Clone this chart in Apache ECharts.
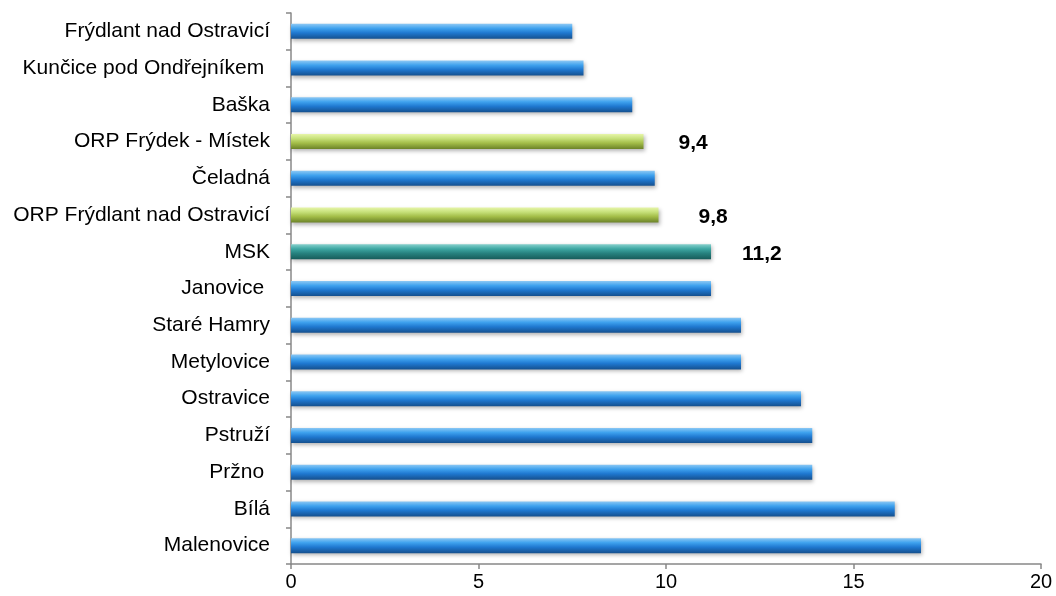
<!DOCTYPE html>
<html><head><meta charset="utf-8">
<script src="https://cdn.jsdelivr.net/npm/echarts@6/dist/echarts.min.js"></script>
<style>html,body{margin:0;padding:0;background:#fff}#c{width:1056px;height:596px}</style>
</head><body><div id="c"></div>
<script>
var categories = ['Frýdlant nad Ostravicí','Kunčice pod Ondřejníkem ','Baška','ORP Frýdek - Místek','Čeladná','ORP Frýdlant nad Ostravicí','MSK','Janovice ','Staré Hamry','Metylovice','Ostravice','Pstruží','Pržno ','Bílá','Malenovice'];
var values = [7.5,7.8,9.1,9.4,9.7,9.8,11.2,11.2,12.0,12.0,13.6,13.9,13.9,16.1,16.8];
var orpCategories = ['ORP Frýdek - Místek','ORP Frýdlant nad Ostravicí'];
var regionCategories = ['MSK'];
var xTicks = [0,5,10,15,20];

var FONT = 'Liberation Sans, Arial, sans-serif';
function grad(a,b,c,d){
  return new echarts.graphic.LinearGradient(0,0,0,1,[
    {offset:0,color:a},{offset:0.3,color:b},{offset:0.6,color:c},{offset:1,color:d}]);
}
var blue = grad('#8cc8f4','#3fa2ee','#1f78d0','#15508e');
var green = grad('#e6f5a8','#c6e07a','#a3bd48','#6b8228');
var teal = grad('#86d0cc','#3fa8a4','#27827f','#175c5a');
var labelGap = {'ORP Frýdek - Místek':35,'ORP Frýdlant nad Ostravicí':40,'MSK':31};

var seriesData = values.map(function(v,i){
  var name = categories[i];
  var isOrp = orpCategories.indexOf(name) >= 0;
  var isReg = regionCategories.indexOf(name) >= 0;
  return {
    value: v,
    itemStyle: {color: isOrp ? green : (isReg ? teal : blue)},
    label: {show: isOrp || isReg, distance: labelGap[name] || 35}
  };
});

var chart = echarts.init(document.getElementById('c'));
chart.setOption({
  animation:false,
  grid:{left:291,right:15,top:13,bottom:32,containLabel:false},
  xAxis:{type:'value',min:0,max:20,interval:5,
    axisLine:{show:true,lineStyle:{color:'#888',width:1.5}},
    axisTick:{show:true,length:5,lineStyle:{color:'#888',width:1.5}},
    splitLine:{show:false},
    axisLabel:{color:'#000',fontSize:20,fontFamily:FONT,margin:8,
      formatter:function(v){return xTicks.indexOf(v)>=0?String(v):'';}}
  },
  yAxis:{type:'category',data:categories,inverse:true,
    axisLine:{show:true,lineStyle:{color:'#888',width:1.5}},
    axisTick:{show:true,length:5,alignWithLabel:false,lineStyle:{color:'#888',width:1.5}},
    axisLabel:{color:'#000',fontSize:21,fontFamily:FONT,margin:21}
  },
  series:[{type:'bar',data:seriesData,barWidth:15,
    itemStyle:{shadowColor:'rgba(0,0,0,0.3)',shadowBlur:4,shadowOffsetY:2,shadowOffsetX:1},
    label:{position:'right',color:'#000',fontWeight:'bold',fontSize:21,fontFamily:FONT,
      offset:[0,2],
      formatter:function(p){return p.value.toFixed(1).replace('.',',');}}
  }]
});
</script></body></html>
